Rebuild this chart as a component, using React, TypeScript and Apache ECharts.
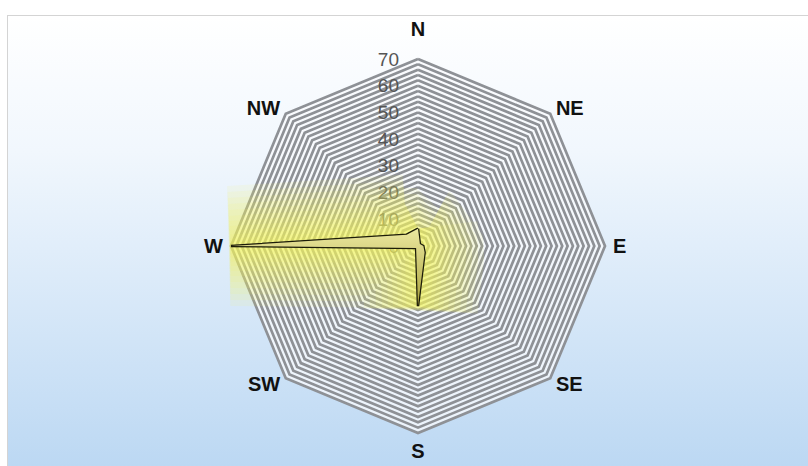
import React, { useEffect, useRef } from "react";
import * as echarts from "echarts";

// Directions, clockwise from north
const directions = ["N", "NE", "E", "SE", "S", "SW", "W", "NW"];
// Values (same order as directions)
const values = [6.5, 1, 2, 3.5, 22.5, 1, 70, 6];
const axisMax = 70;
const tickStep = 10;
// widths of the stacked soft strokes that make the yellow glow
const glowWidths = [120, 108, 96, 84, 72, 60, 50, 40, 31, 23, 15, 8];

export default function App() {
  const ref = useRef<HTMLDivElement>(null);
  useEffect(() => {
    if (!ref.current) return;
    const chart = echarts.init(ref.current, undefined, { renderer: "svg" });
    // ECharts radar places indicators counter-clockwise; reorder to draw clockwise
    const order = [0, 7, 6, 5, 4, 3, 2, 1];
    const names = order.map((i) => directions[i]);
    const vals = order.map((i) => values[i]);
    const center = [410, 230];
    const radius = 187;
    const glowSeries = glowWidths.map((w) => ({
      type: "radar",
      radarIndex: 0,
      symbol: "none",
      z: 2,
      silent: true,
      lineStyle: {
        color: "rgba(246,242,100,0.1)",
        width: w,
        join: "bevel",
        cap: "butt",
      },
      areaStyle: { color: "rgba(246,242,100,0.03)" },
      data: [{ value: vals }],
    }));
    chart.setOption({
      animation: false,
      backgroundColor: {
        type: "linear",
        x: 0,
        y: 0,
        x2: 0,
        y2: 1,
        colorStops: [
          { offset: 0, color: "#ffffff" },
          { offset: 0.3, color: "#f1f7fd" },
          { offset: 1, color: "#bcd8f3" },
        ],
      },
      radar: [
        {
          center,
          radius,
          startAngle: 90,
          shape: "polygon",
          splitNumber: axisMax / 2,
          nameGap: 8,
          indicator: names.map((n) => ({ name: n, min: 0, max: axisMax })),
          axisName: {
            color: "#111111",
            fontSize: 20,
            fontWeight: "bold",
            fontFamily: "Liberation Sans, Arial, sans-serif",
            formatter: (n: string) => (n === "N" ? "{n|N}" : n),
            rich: {
              n: {
                fontSize: 20,
                fontWeight: "bold",
                color: "#111111",
                fontFamily: "Liberation Sans, Arial, sans-serif",
                padding: [0, 0, 12, 0],
              },
            },
          },
          splitLine: { lineStyle: { color: "#8e9196", width: 2.7 } },
          splitArea: {
            show: true,
            areaStyle: { color: ["rgba(250,251,253,0.75)", "rgba(250,251,253,0.75)"] },
          },
          axisLine: { show: false },
          axisTick: { show: false },
          axisLabel: { show: false },
        },
        {
          center,
          radius,
          startAngle: 90,
          shape: "polygon",
          splitNumber: axisMax / tickStep,
          indicator: names.map((n, i) => ({
            name: "",
            min: 0,
            max: axisMax,
            axisLabel: { show: i === 0 },
          })),
          splitLine: { show: false },
          splitArea: { show: false },
          axisLine: { show: false },
          axisTick: { show: false },
          axisLabel: {
            show: false,
            color: "#555555",
            fontSize: 19,
            margin: 19,
            fontFamily: "Liberation Sans Narrow, Liberation Sans, Arial, sans-serif",
          },
        },
      ],
      series: [
        ...glowSeries,
        {
          type: "radar",
          radarIndex: 0,
          symbol: "none",
          z: 3,
          lineStyle: {
            color: "#1c1c08",
            width: 2.5,
            join: "miter",
          },
          areaStyle: {
            color: {
              type: "linear",
              x: 0,
              y: 0,
              x2: 0,
              y2: 1,
              colorStops: [
                { offset: 0, color: "#ece8a0" },
                { offset: 1, color: "#a9a23c" },
              ],
            },
            opacity: 1,
          },
          data: [{ value: vals }],
        },
      ],
    });
    return () => chart.dispose();
  }, []);
  return (
    <div
      ref={ref}
      style={{
        position: "fixed",
        left: 7,
        top: 15,
        width: 801,
        height: 451,
        borderTop: "1px solid #d4d4d4",
        borderLeft: "1px solid #d4d4d4",
        boxSizing: "border-box",
      }}
    />
  );
}
